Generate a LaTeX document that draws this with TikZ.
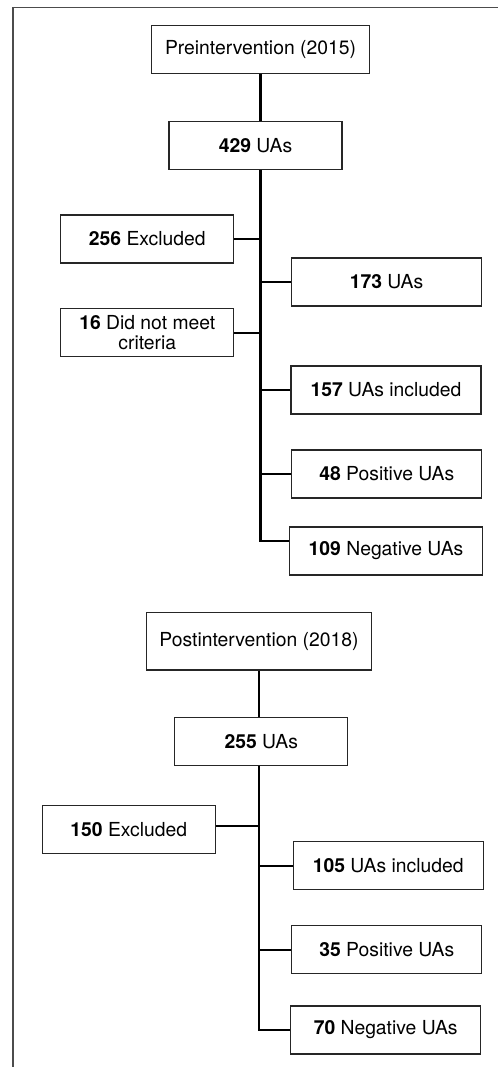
\documentclass[tikz,border=0pt]{standalone}
\usepackage{fontspec}
\setmainfont{TeX Gyre Heros}
\begin{document}
\begin{tikzpicture}[x=0.02cm, y=-0.02cm,
	box/.style={draw=black!85, line width=0.75pt, fill=white, minimum height=0.96cm, inner sep=2pt, align=center, font=\fontsize{11}{11.8}\selectfont},
	link/.style={line width=1.15pt, black}]

\def\wa{3.46cm}
\def\wb{3.8cm}

\path [use as bounding box] (0,0) rectangle (498,1067);

% FRAME
\draw [line width=0.8pt, black!70] (13,1067) -- (13,7.5) -- (498,7.5);

% PREINTERVENTION
\node [box, minimum width=4.35cm] (pre) at (260.5,49.7) {Preintervention (2015)};
\node [box, minimum width=\wa] (pre429) at (255.5,145.7) {\textbf{429} UAs};
\node [box, minimum width=\wa] (excl256) at (147.3,239) {\textbf{256} Excluded};
\node [box, minimum width=\wb] (ua173) at (386.5,282) {\textbf{173} UAs};
\node [box, minimum width=\wa] (crit16) at (147.3,332.7) {\textbf{16} Did not meet\\criteria};
\node [box, minimum width=\wb] (incl157) at (386,390) {\textbf{157} UAs included};
\node [box, minimum width=\wb] (pos48) at (386.8,474) {\textbf{48} Positive UAs};
\node [box, minimum width=3.85cm] (neg109) at (386,551) {\textbf{109} Negative UAs};

\draw [link] (pre) -- (pre |- pre429.north);
\draw [link] (pre |- pre429.south) |- ([yshift=0.2cm]neg109.west);
\draw [link] (excl256) -- (excl256 -| pre);
\draw [link] (ua173) -- (ua173 -| pre);
\draw [link] (crit16) -- (crit16 -| pre);
\draw [link] (incl157) -- (incl157 -| pre);
\draw [link] (pos48) -- (pos48 -| pre);

% POSTINTERVENTION
\node [box, minimum width=4.49cm, minimum height=1.15cm] (post) at (259,641.3) {Postintervention (2018)};
\node [box, minimum width=\wa] (post255) at (261.3,741.3) {\textbf{255} UAs};
\node [box, minimum width=\wa] (excl150) at (128.7,829.8) {\textbf{150} Excluded};
\node [box, minimum width=\wb] (incl105) at (388.2,865.7) {\textbf{105} UAs included};
\node [box, minimum width=\wb] (pos35) at (386.8,949.7) {\textbf{35} Positive UAs};
\node [box, minimum width=\wb] (neg70) at (385.7,1030) {\textbf{70} Negative UAs};

\draw [link] (post) -- (post |- post255.north);
\draw [link] (post |- post255.south) |- (neg70.west);
\draw [link] ([yshift=0.08cm]excl150.east) -- ([yshift=0.08cm]excl150.east -| post);
\draw [link] (incl105) -- (incl105 -| post);
\draw [link] (pos35) -- (pos35 -| post);

\end{tikzpicture}
\end{document}
